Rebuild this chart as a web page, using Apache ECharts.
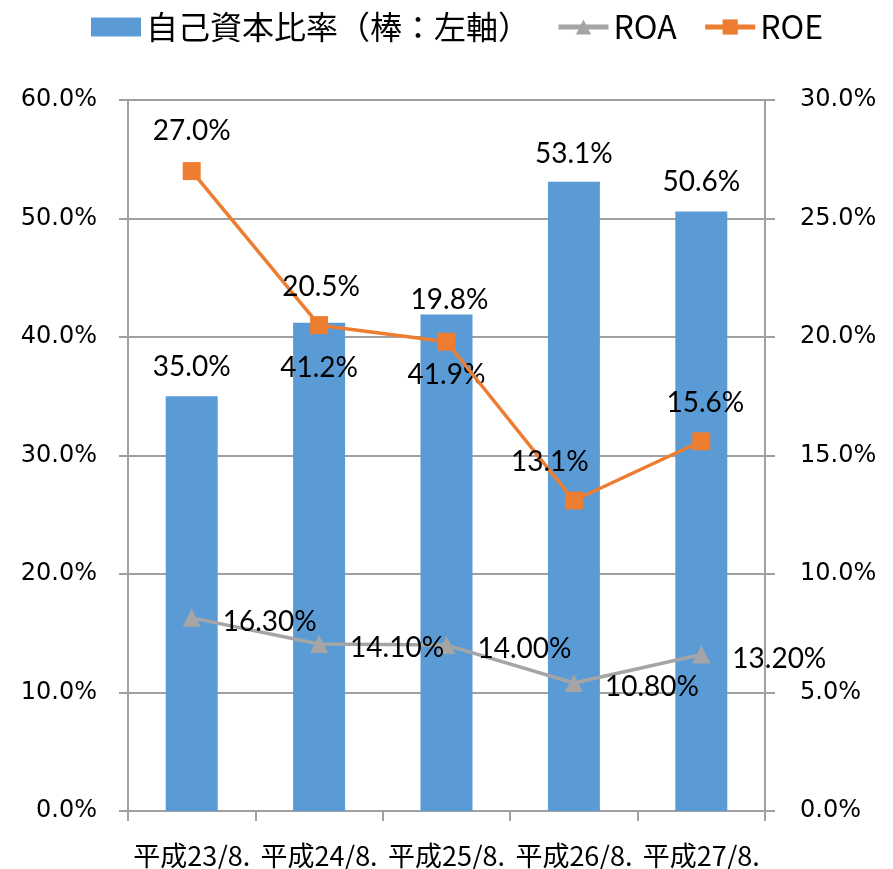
<!DOCTYPE html>
<html>
<head>
<meta charset="utf-8">
<script src="https://cdn.jsdelivr.net/npm/echarts@6/dist/echarts.min.js"></script>
<style>
    html, body { margin: 0; padding: 0; background: #fff; }
    #chart { width: 893px; height: 869px; }
</style>
</head>
<body>
<div id="chart"></div>
<script>
// values
const categories = ['平成23/8.', '平成24/8.', '平成25/8.', '平成26/8.', '平成27/8.'];
const equityRatio = [35.0, 41.2, 41.9, 53.1, 50.6]; // bars, left axis
const roa = [16.3, 14.1, 14.0, 10.8, 13.2];         // left axis
const roe = [27.0, 20.5, 19.8, 13.1, 15.6];         // right axis

// label nudges (px), Excel labels were moved by hand
const barLabelOffsets = [[0, -15], [0, 59], [0, 74], [0, -14], [0, -15]];
const roeLabelOffsets = [[0, -17], [2, -15], [3, -19], [-24, -16], [4, -15]];

const gray = '#a0a0a0';
const labelFont = { fontFamily: 'Lato', fontSize: 28, lineHeight: 28, color: '#000' };

const chart = echarts.init(document.getElementById('chart'));

chart.setOption({
    animation: false,
    textStyle: { fontFamily: 'Noto Sans CJK JP' },
    legend: {
        left: 86,
        top: 6,
        itemWidth: 50,
        itemHeight: 19,
        itemGap: 26,
        lineStyle: { width: 5 },
        textStyle: { fontFamily: 'Noto Sans CJK JP', fontSize: 32, color: '#000' },
        data: [
            { name: '自己資本比率（棒：左軸）', icon: 'rect' },
            'ROA',
            'ROE'
        ]
    },
    grid: { left: 128, right: 128, top: 100, bottom: 57 },
    xAxis: {
        type: 'category',
        data: categories,
        axisLine: { lineStyle: { color: gray, width: 2 } },
        axisTick: { show: true, length: 10, lineStyle: { color: gray, width: 2 } },
        axisLabel: {
            interval: 0,
            margin: 31,
            fontFamily: 'Noto Sans CJK JP',
            fontSize: 27,
            color: '#000'
        }
    },
    yAxis: [
        {
            type: 'value',
            min: 0,
            max: 60,
            interval: 10,
            axisLine: { show: true, lineStyle: { color: gray, width: 2 } },
            axisTick: { show: true, length: 9, lineStyle: { color: gray, width: 2 } },
            splitLine: { lineStyle: { color: gray, width: 2 } },
            axisLabel: {
                margin: 31,
                fontFamily: 'DejaVu Sans',
                fontSize: 24,
                color: '#000',
                formatter: v => v.toFixed(1) + '%'
            }
        },
        {
            type: 'value',
            min: 0,
            max: 30,
            interval: 5,
            axisLine: { show: true, lineStyle: { color: gray, width: 2 } },
            axisTick: { show: true, length: 10, lineStyle: { color: gray, width: 2 } },
            splitLine: { show: false },
            axisLabel: {
                margin: 35,
                fontFamily: 'DejaVu Sans',
                fontSize: 24,
                color: '#000',
                formatter: v => v.toFixed(1) + '%'
            }
        }
    ],
    series: [
        {
            name: '自己資本比率（棒：左軸）',
            type: 'bar',
            yAxisIndex: 0,
            barWidth: 52,
            itemStyle: { color: '#5b9bd5' },
            data: equityRatio.map((v, i) => ({
                value: v,
                label: { offset: barLabelOffsets[i] }
            })),
            label: {
                show: true,
                position: 'top',
                distance: 0,
                ...labelFont,
                formatter: p => p.value.toFixed(1) + '%'
            },
            z: 1
        },
        {
            name: 'ROA',
            type: 'line',
            yAxisIndex: 0,
            symbol: 'triangle',
            symbolSize: 18,
            lineStyle: { color: '#a5a5a5', width: 3.5 },
            itemStyle: { color: '#a5a5a5' },
            data: roa,
            label: {
                show: true,
                position: 'right',
                distance: 22,
                offset: [0, 4],
                ...labelFont,
                formatter: p => p.value.toFixed(2) + '%'
            },
            z: 3
        },
        {
            name: 'ROE',
            type: 'line',
            yAxisIndex: 1,
            symbol: 'rect',
            symbolSize: 18,
            lineStyle: { color: '#ed7d31', width: 3.5 },
            itemStyle: { color: '#ed7d31' },
            data: roe.map((v, i) => ({
                value: v,
                label: { offset: roeLabelOffsets[i] }
            })),
            label: {
                show: true,
                position: 'top',
                distance: 0,
                ...labelFont,
                formatter: p => p.value.toFixed(1) + '%'
            },
            z: 4
        }
    ]
});
</script>
</body>
</html>
